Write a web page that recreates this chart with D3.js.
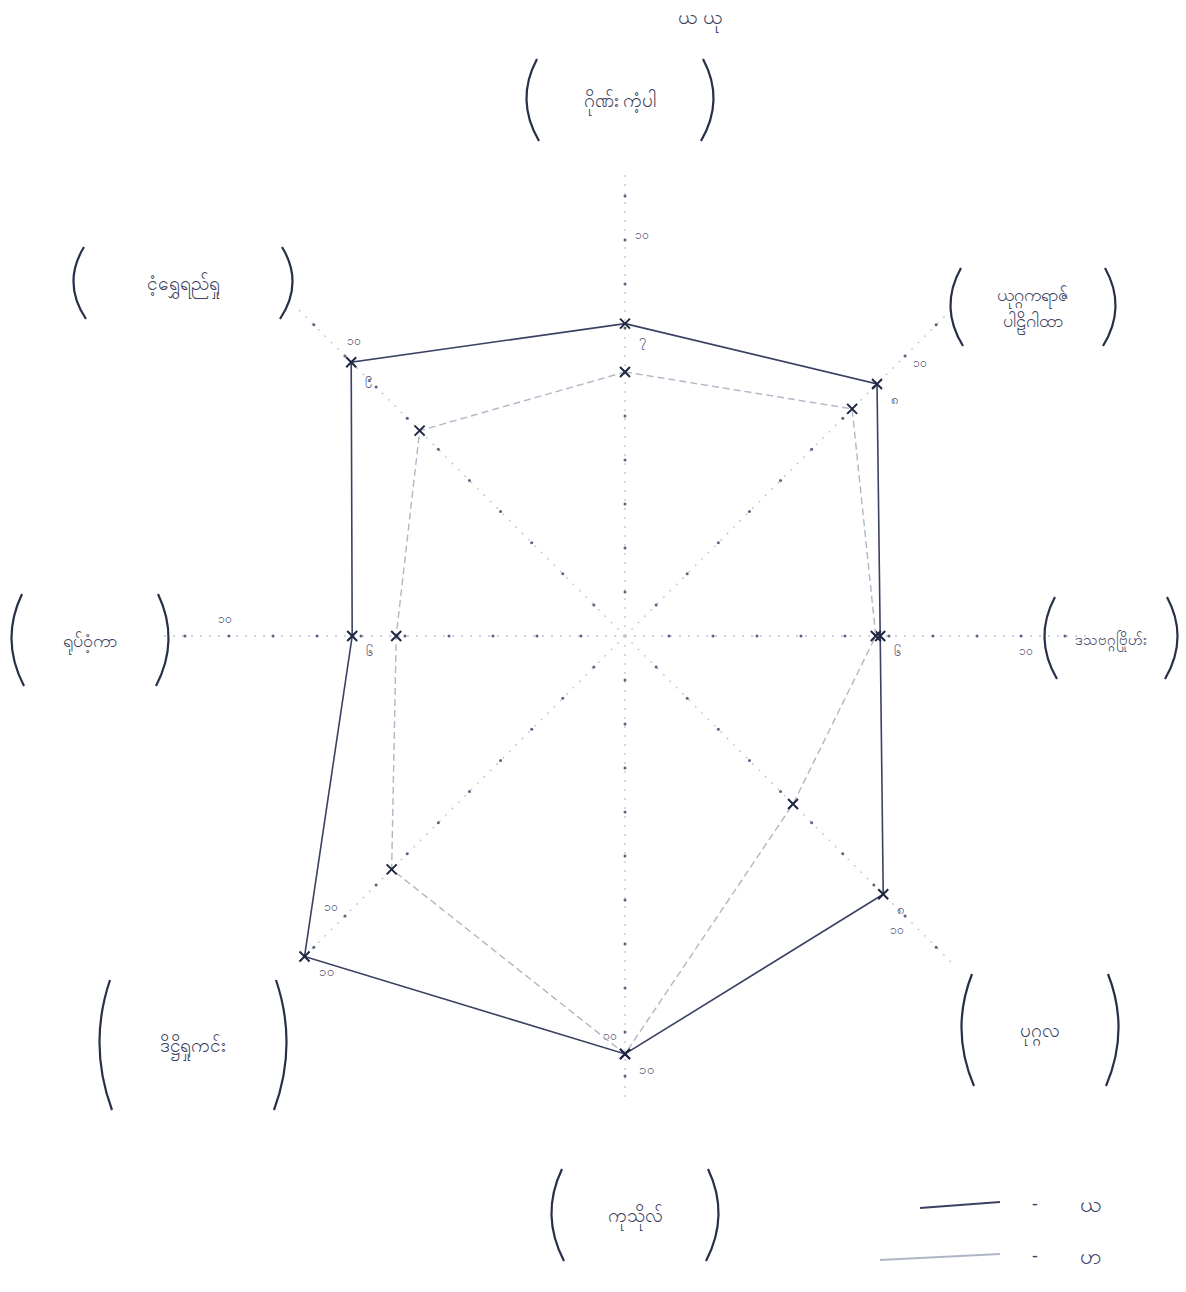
<!DOCTYPE html>
<html>
<head>
<meta charset="utf-8">
<script src="https://cdn.jsdelivr.net/npm/d3@7"></script>
<style>
  body { margin: 0; background: #fff; }
  svg { display: block; }
  text { font-family: "Noto Sans", "DejaVu Sans", sans-serif; fill: #3a4160; }
</style>
</head>
<body>
<div id="chart"></div>
<script>
// axis labels (clockwise from top), split in lines
var axisLabels = [
  ["ဂိုဏ်း ကံ့ပါ"],
  ["ယုဂ္ဂကရာဇ်", "ပါဠိဂါထာ"],
  ["ဒသဗဂ္ဂဗြိုဟ်း"],
  ["ပုဂ္ဂလ"],
  ["ကုသိုလ်"],
  ["ဒိဋ္ဌိရှုကင်း"],
  ["ရုပ်ဝံ့ကာ"],
  ["ငံ့ရွှေရည်ရှု"]
];
var seriesNames = ["ယ", "ဟ"];
var seriesYa = [7.1, 8.1, 5.8, 8.3, 9.5, 10.3, 6.2, 8.8];
var seriesHa = [6.0, 7.3, 5.7, 5.4, 9.5, 7.5, 5.2, 6.6];
var ticks = [1, 2, 3, 4, 5, 6, 7, 8, 9, 10];
var titleText = "ယ  ယု";

var width = 1186, height = 1292;
var cx = 625, cy = 636;

// label bracket boxes, offset from centre
var labelBox = [
  {dx: -5,   dy: -536, w: 190, h: 82, fs: 19},
  {dx: 408,  dy: -329, w: 168, h: 78, fs: 18},
  {dx: 486,  dy: 2,    w: 136, h: 82, fs: 15},
  {dx: 415,  dy: 394,  w: 160, h: 112, fs: 19},
  {dx: 10,   dy: 579,  w: 170, h: 92, fs: 19},
  {dx: -432, dy: 409,  w: 190, h: 130, fs: 19},
  {dx: -535, dy: 4,    w: 160, h: 92, fs: 18},
  {dx: -442, dy: -353, w: 222, h: 72, fs: 19}
];

var svg = d3.select("#chart").append("svg")
    .attr("width", width)
    .attr("height", height);

var r = d3.scaleLinear().domain([0, 10]).range([0, 440]);
var angle = d3.scaleLinear().domain([0, axisLabels.length]).range([0, 2 * Math.PI]);

function pt(i, v) {
  var a = angle(i);
  return [cx + Math.sin(a) * r(v), cy - Math.cos(a) * r(v)];
}
var toMy = function(n){ return String(n).replace(/[0-9]/g, function(c){ return "၀၁၂၃၄၅၆၇၈၉"[+c]; }); };

var g = svg.append("g");

// axes, dotted
axisLabels.forEach(function(d, i){
  var end = pt(i, 10.6);
  g.append("line")
      .attr("x1", cx).attr("y1", cy)
      .attr("x2", end[0]).attr("y2", end[1])
      .attr("stroke", "#bfc4d2")
      .attr("stroke-width", 1.3)
      .attr("stroke-dasharray", "2,7");
  g.selectAll(null)
      .data(ticks)
    .enter().append("circle")
      .attr("cx", function(t){ return pt(i, t)[0]; })
      .attr("cy", function(t){ return pt(i, t)[1]; })
      .attr("r", 1.5)
      .attr("fill", "#5a6280");
  var a = angle(i), lab = pt(i, 9.1);
  g.append("text")
      .attr("x", lab[0] + Math.cos(a) * 16)
      .attr("y", lab[1] + Math.sin(a) * 16)
      .attr("text-anchor", "middle")
      .attr("dominant-baseline", "middle")
      .attr("font-size", 12)
      .attr("fill", "#9aa0b4")
      .text(toMy(10));
});

// series polygons
var line = d3.line().curve(d3.curveLinearClosed);
var series = [
  {name: seriesNames[0], values: seriesYa, color: "#3a4262", w: 1.6, dash: null},
  {name: seriesNames[1], values: seriesHa, color: "#b0b6c6", w: 1.4, dash: "7,4"}
];

series.forEach(function(s, k){
  var pts = s.values.map(function(v, i){ return pt(i, v); });
  g.append("path")
      .attr("d", line(pts))
      .attr("fill", "none")
      .attr("stroke", s.color)
      .attr("stroke-width", s.w)
      .attr("stroke-dasharray", s.dash);

  g.selectAll(null)
      .data(pts)
    .enter().append("path")
      .attr("d", function(p){
        return "M" + (p[0]-5) + "," + (p[1]-5) + "L" + (p[0]+5) + "," + (p[1]+5) +
               "M" + (p[0]+5) + "," + (p[1]-5) + "L" + (p[0]-5) + "," + (p[1]+5);
      })
      .attr("stroke", "#1f2640")
      .attr("stroke-width", 2);

  if (k === 0) {
    g.selectAll(null)
        .data(pts)
      .enter().append("text")
        .attr("x", function(p){ return p[0] + 14; })
        .attr("y", function(p){ return p[1] + 20; })
        .attr("font-size", 13)
        .attr("fill", "#7a8098")
        .text(function(p, i){ return toMy(Math.round(s.values[i])); });
  }
});

// labels in hand-drawn brackets
axisLabels.forEach(function(lines, i){
  var b = labelBox[i];
  var x = cx + b.dx, y = cy + b.dy;
  var x0 = x - b.w / 2, x1 = x + b.w / 2, y0 = y - b.h / 2, y1 = y + b.h / 2;
  g.append("path")
      .attr("d", "M" + (x0 + 12) + "," + y0 + "Q" + (x0 - 10) + "," + y + " " + (x0 + 14) + "," + y1)
      .attr("fill", "none").attr("stroke", "#273049").attr("stroke-width", 2.2);
  g.append("path")
      .attr("d", "M" + (x1 - 12) + "," + y0 + "Q" + (x1 + 10) + "," + y + " " + (x1 - 14) + "," + y1)
      .attr("fill", "none").attr("stroke", "#273049").attr("stroke-width", 2.2);
  var t = g.append("text")
      .attr("x", x)
      .attr("text-anchor", "middle")
      .attr("font-size", b.fs)
      .attr("fill", "#4a5272");
  lines.forEach(function(l, j){
    t.append("tspan")
        .attr("x", x)
        .attr("y", y + 7 + (j - (lines.length - 1) / 2) * 26)
        .text(l);
  });
});

// small title at top
svg.append("text")
    .attr("x", 700).attr("y", 24)
    .attr("text-anchor", "middle")
    .attr("font-size", 20)
    .attr("fill", "#4a5272")
    .text(titleText);

// legend
var legend = svg.append("g").attr("transform", "translate(920,1205)");
series.forEach(function(s, k){
  var row = legend.append("g").attr("transform", "translate(0," + (k * 52) + ")");
  row.append("line")
      .attr("x1", k === 0 ? 0 : -40).attr("y1", 3)
      .attr("x2", 80).attr("y2", -3)
      .attr("stroke", s.color)
      .attr("stroke-width", s.w + 0.4);
  row.append("text")
      .attr("x", 112).attr("y", 5)
      .attr("font-size", 18)
      .text("-");
  row.append("text")
      .attr("x", 160).attr("y", 7)
      .attr("font-size", 22)
      .text(s.name);
});
</script>
</body>
</html>
